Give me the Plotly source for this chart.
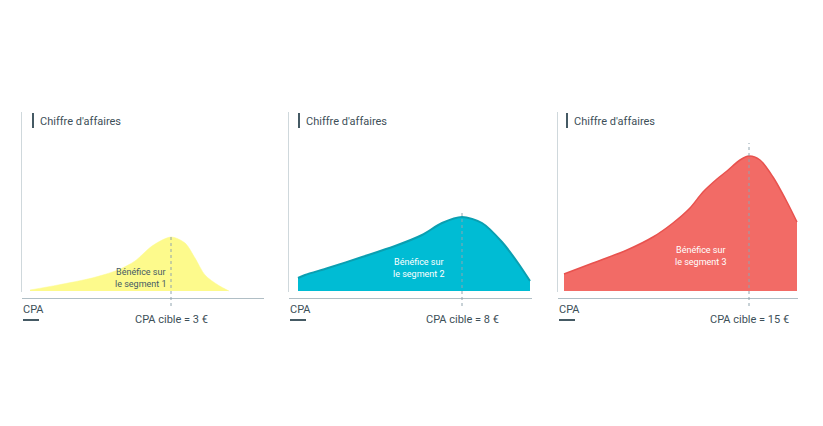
import plotly.graph_objects as go

# page offset (browser body margin) is 8px; figure coordinates are page px - 8
OFF = 8
W, H = 823 - OFF, 426 - OFF

# --- data (x = position along the CPA axis, y = chiffre d'affaires, arbitrary units) ---
pos_seg1 = [8, 36, 70, 96, 113, 130, 149, 163, 173, 183, 196, 207]
val_seg1 = [1, 6, 13, 21, 30, 45, 54, 48, 33, 16, 6, 0]

pos_seg2 = [9, 16, 39, 73, 106, 133, 153, 173, 193, 213, 229, 241]
val_seg2 = [13, 16, 23, 34, 45, 56, 68, 74, 68, 49, 28, 10]

pos_seg3 = [6, 35, 69, 95, 115, 132, 145, 159, 169, 182, 191, 202, 215, 229, 239]
val_seg3 = [17, 28, 41, 54, 68, 83, 99, 112, 120, 131, 135, 131, 114, 89, 69]

target_pos = [149, 173, 191]
target_labels = ["CPA cible = 3 €", "CPA cible = 8 €", "CPA cible = 15 €"]
target_line_top = [54, 81, 148]
segment_labels = ["Bénéfice sur<br>le segment 1", "Bénéfice sur<br>le segment 2", "Bénéfice sur<br>le segment 3"]
segment_label_pos = [119, 130, 143]
segment_label_val = [13, 23, 35]
y_title = "Chiffre d'affaires"
x_title = "CPA"

# --- styling ---
panels_px = [(22, 264), (289, 532), (558, 798)]
title_bar_dx = [11, 10, 9]
fill_colors = ["#fdfa8c", "#00bcd4", "#f26b66"]
line_colors = ["#fdfa8c", "#0a9fb1", "#e8524e"]
line_widths = [0.5, 2, 1.5]
label_colors = ["#455a64", "#ffffff", "#ffffff"]
text_dark = "#3d4f58"
FONT = "Roboto"

y_top_px, y_bot_px = 112, 292
x_line_px = 298


def px_(p):
    return (p - OFF) / W


def py(p):
    return (H - (p - OFF)) / H


fig = go.Figure()
series = [(pos_seg1, val_seg1), (pos_seg2, val_seg2), (pos_seg3, val_seg3)]

for i, ((xs, ys), (x0, x1)) in enumerate(zip(series, panels_px)):
    n = "" if i == 0 else str(i + 1)
    fig.add_trace(go.Scatter(
        x=xs, y=ys, mode="lines", fill="tozeroy",
        fillcolor=fill_colors[i],
        line=dict(color=line_colors[i], width=line_widths[i], shape="spline", smoothing=0.8),
        xaxis="x" + n, yaxis="y" + n, hoverinfo="skip", showlegend=False,
    ))
    width = x1 - x0
    fig.update_layout(**{
        "xaxis" + n: dict(domain=[px_(x0), px_(x1)], range=[0, width], showgrid=False,
                          zeroline=False, showticklabels=False, ticks="",
                          showline=True, linecolor="#b0bec5", linewidth=1,
                          anchor="free", position=py(x_line_px), fixedrange=True),
        "yaxis" + n: dict(domain=[py(y_bot_px), py(y_top_px)], range=[-1, y_bot_px - y_top_px - 1],
                          showgrid=False, zeroline=False, showticklabels=False, ticks="",
                          showline=True, linecolor="#cfd8dc", linewidth=1,
                          anchor="x" + n, fixedrange=True),
    })

    # dotted target line
    fig.add_shape(type="line", xref="x" + n, yref="paper",
                  x0=target_pos[i], x1=target_pos[i],
                  y0=py(306), y1=py(y_bot_px - 1 - target_line_top[i]),
                  line=dict(color="#90a4ae", width=1, dash="dot"))
    # target label
    fig.add_annotation(x=target_pos[i], xref="x" + n, y=py(319), yref="paper",
                       text=target_labels[i], showarrow=False, xanchor="center", yanchor="middle",
                       font=dict(family=FONT, size=11, color=text_dark))
    # segment label
    fig.add_annotation(x=segment_label_pos[i], xref="x" + n, y=segment_label_val[i], yref="y" + n,
                       text=segment_labels[i], showarrow=False, xanchor="center", yanchor="middle",
                       align="center", font=dict(family=FONT, size=9, color=label_colors[i]))
    # y title with bar
    bx = x0 + title_bar_dx[i]
    fig.add_shape(type="line", xref="paper", yref="paper",
                  x0=px_(bx), x1=px_(bx), y0=py(113), y1=py(128),
                  line=dict(color="#455a64", width=2))
    fig.add_annotation(x=px_(bx + 5), xref="paper", y=py(122), yref="paper",
                       text=y_title, showarrow=False, xanchor="left", yanchor="middle",
                       font=dict(family=FONT, size=11, color=text_dark))
    # x title with underline
    fig.add_annotation(x=px_(x0 - 1), xref="paper", y=py(309), yref="paper",
                       text=x_title, showarrow=False, xanchor="left", yanchor="middle",
                       font=dict(family=FONT, size=11, color=text_dark))
    fig.add_shape(type="line", xref="paper", yref="paper",
                  x0=px_(x0 + 1), x1=px_(x0 + 17), y0=py(320), y1=py(320),
                  line=dict(color="#455a64", width=2))

fig.update_layout(width=W, height=H, margin=dict(l=0, r=0, t=0, b=0),
                  paper_bgcolor="white", plot_bgcolor="white",
                  font=dict(family=FONT))

fig.write_html("out.html")
